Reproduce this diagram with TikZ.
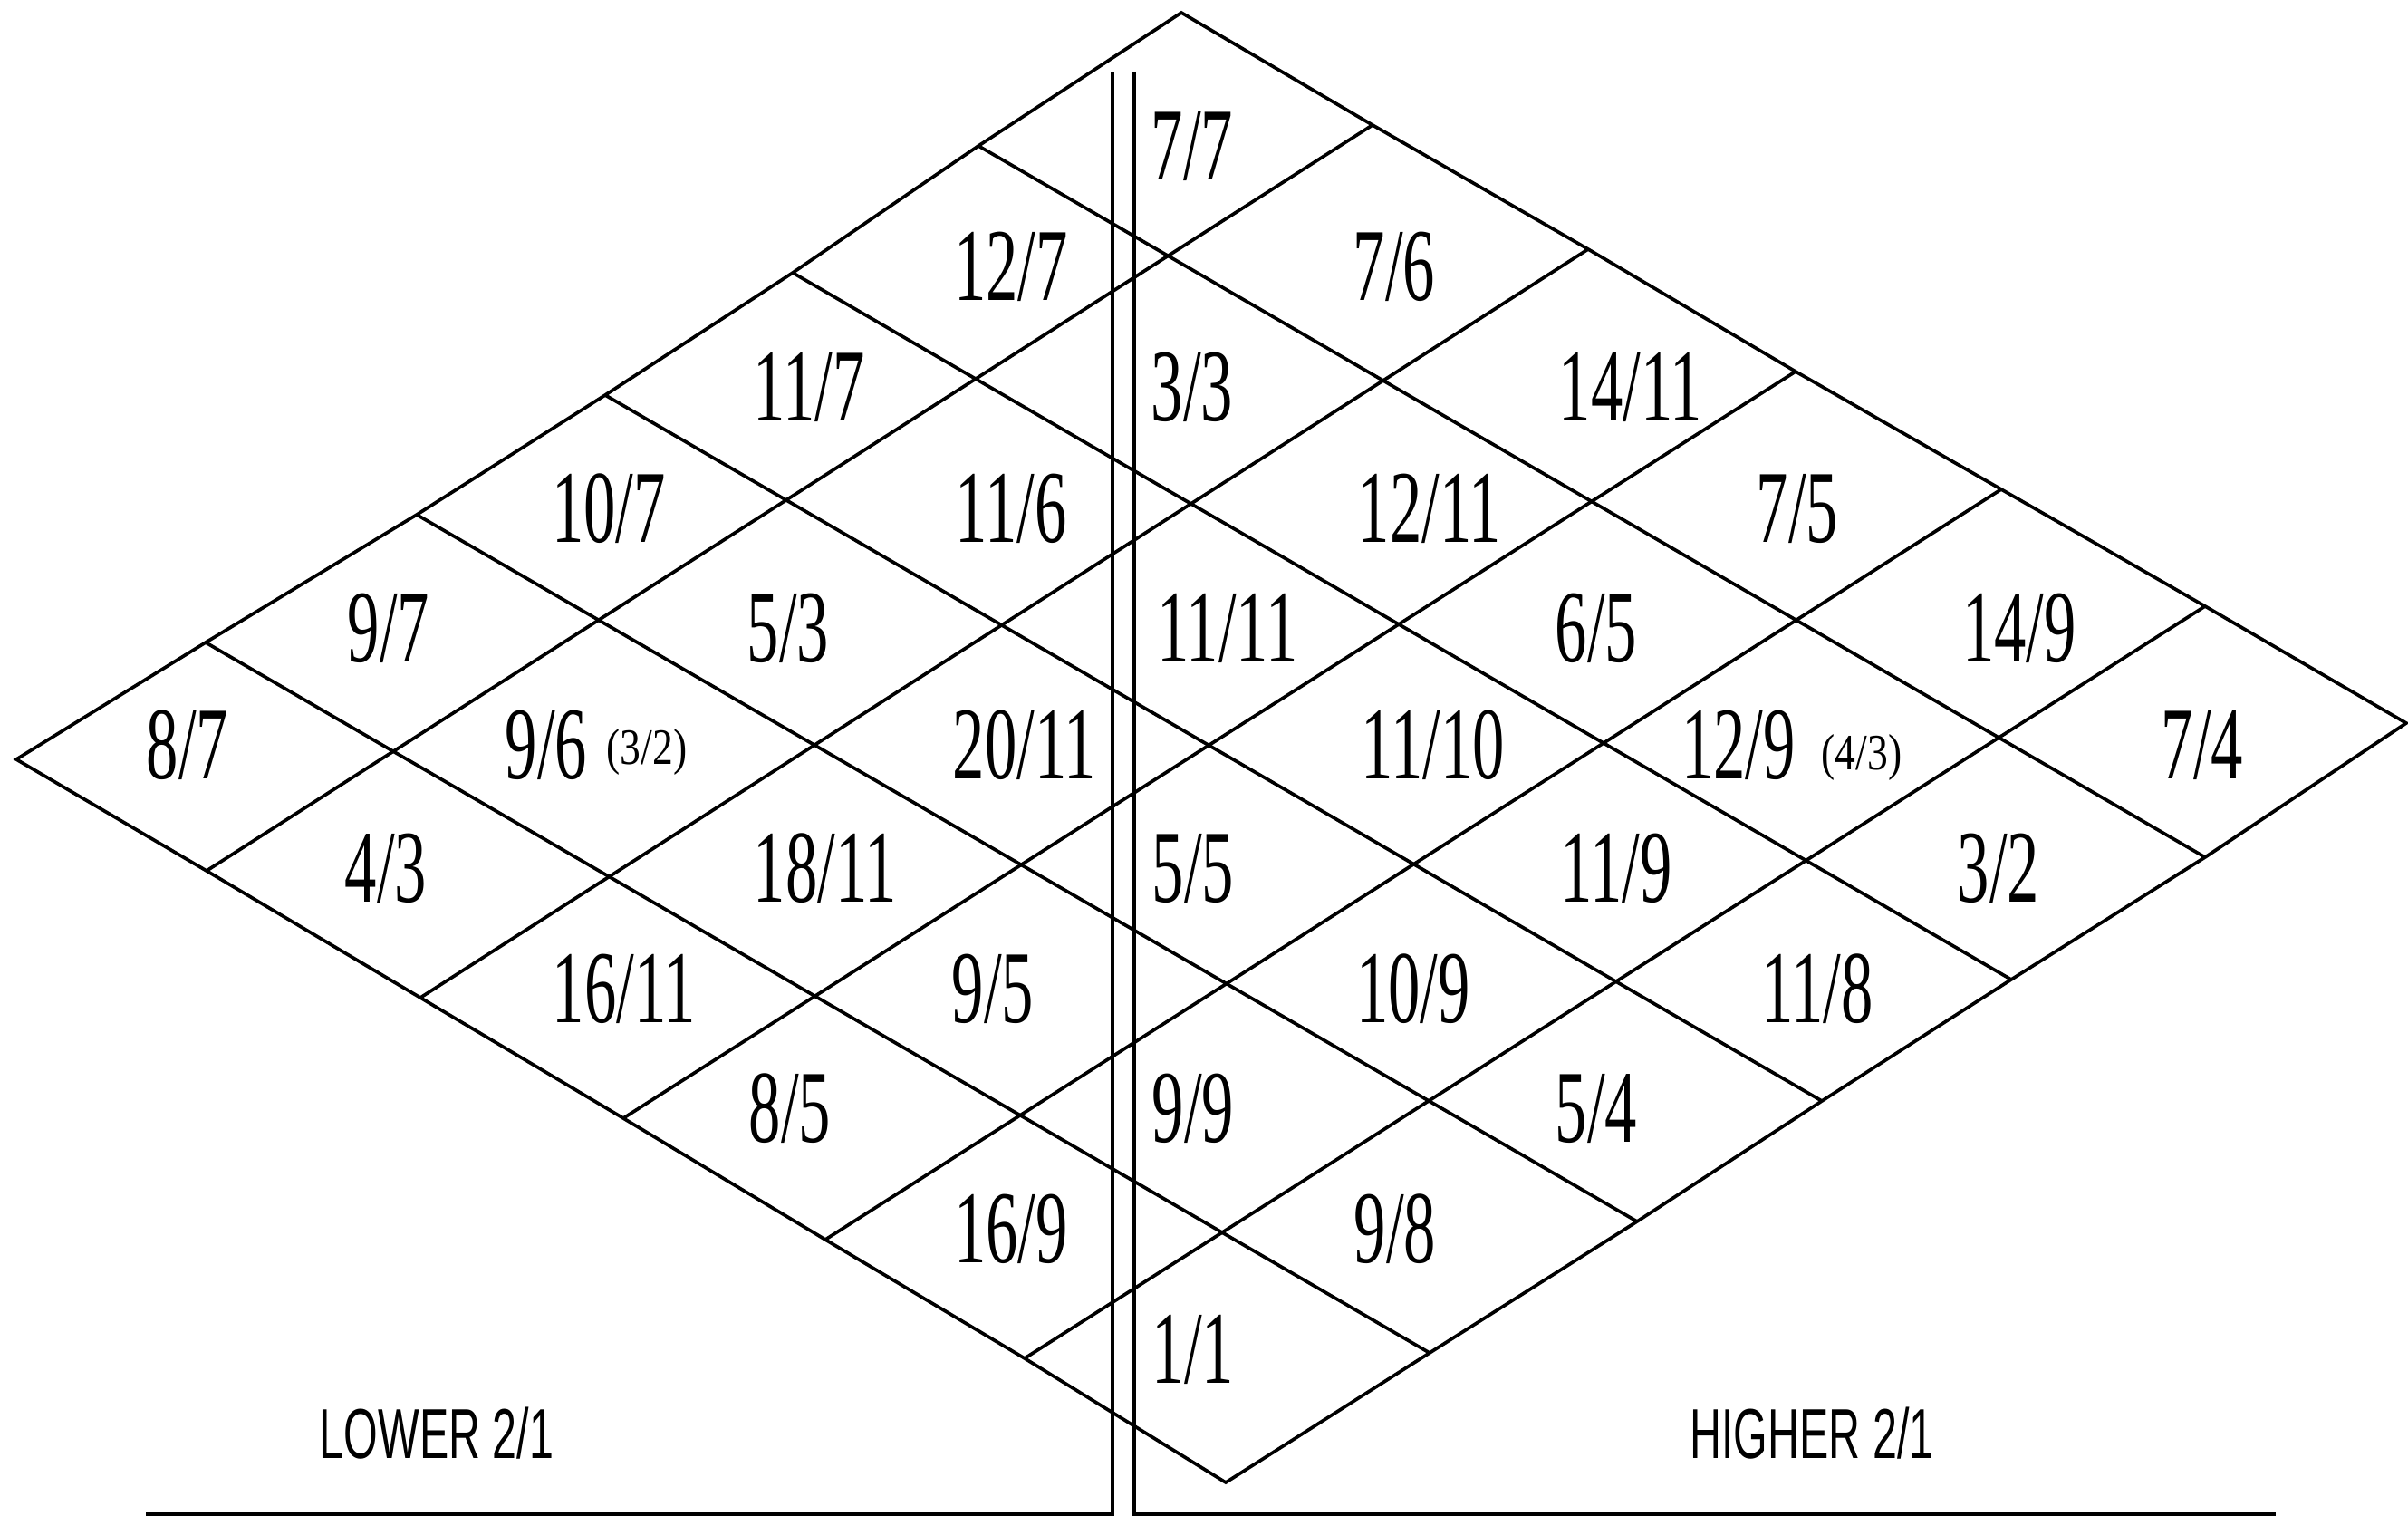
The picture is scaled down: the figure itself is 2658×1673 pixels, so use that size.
\documentclass[tikz,border=0pt]{standalone}
\usepackage{fontspec}
\setmainfont{Liberation Serif}[FakeStretch=0.62]
\newfontfamily\asideserif{Liberation Serif}[FakeStretch=0.81]
\newfontfamily\octavesans{Liberation Sans}[FakeStretch=0.62]
\begin{document}
\begin{tikzpicture}[x=0.01cm,y=-0.01cm,line width=1pt,line join=miter]
\tikzset{
  ratio/.style={anchor=base,inner sep=0pt,font=\fontsize{32.4}{34}\selectfont},
  aside/.style={anchor=base,inner sep=0pt,font=\asideserif\fontsize{16}{18}\selectfont},
  octave/.style={anchor=base,inner sep=0pt,font=\octavesans\fontsize{22.2}{24}\selectfont},
  gridline/.style={line width=1.05pt},
  divider/.style={line width=0.9pt},
}
\useasboundingbox (0,0) rectangle (2658,1673);
% corners
\coordinate (L) at (18,838);
\coordinate (T) at (1304,14);
\coordinate (R) at (2656,798);
\coordinate (B) at (1353,1636);
% points on the edges
\coordinate (lt1) at (227,709);
\coordinate (lt2) at (460,568);
\coordinate (lt3) at (668,436);
\coordinate (lt4) at (875,301);
\coordinate (lt5) at (1080,161);
\coordinate (tr1) at (1515,138);
\coordinate (tr2) at (1753,275);
\coordinate (tr3) at (1982,410);
\coordinate (tr4) at (2209,540);
\coordinate (tr5) at (2434,669);
\coordinate (lb1) at (228,961);
\coordinate (lb2) at (464,1101);
\coordinate (lb3) at (688,1234);
\coordinate (lb4) at (911,1368);
\coordinate (lb5) at (1131,1499);
\coordinate (br1) at (1578,1493);
\coordinate (br2) at (1807,1348);
\coordinate (br3) at (2011,1215);
\coordinate (br4) at (2220,1081);
\coordinate (br5) at (2434,946);
% outline
\draw[gridline] (L) -- (lt1) -- (lt2) -- (lt3) -- (lt4) -- (lt5) -- (T)
  -- (tr1) -- (tr2) -- (tr3) -- (tr4) -- (tr5) -- (R)
  -- (br5) -- (br4) -- (br3) -- (br2) -- (br1) -- (B)
  -- (lb5) -- (lb4) -- (lb3) -- (lb2) -- (lb1) -- cycle;
% inner lines
\foreach \i in {1,...,5} {
  \draw[gridline] (lb\i) -- (tr\i);
  \draw[gridline] (lt\i) -- (br\i);
}
% double divider and base lines
\coordinate (dltop) at (1228,79);
\coordinate (dlfoot) at (1228,1671);
\coordinate (baseleft) at (161,1671);
\coordinate (drtop) at (1252,79);
\coordinate (drfoot) at (1252,1671);
\coordinate (baseright) at (2512,1671);
\draw[divider] (baseleft) -- (dlfoot) -- (dltop);
\draw[divider] (drtop) -- (drfoot) -- (baseright);
% labels
\node[ratio] (r7x7) at (1316,199) {7/7};
\node[ratio] (r12x7) at (1116,332) {12/7};
\node[ratio] (r7x6) at (1539,332) {7/6};
\node[ratio] (r11x7) at (893,464) {11/7};
\node[ratio] (r3x3) at (1316,464) {3/3};
\node[ratio] (r14x11) at (1800,464) {14/11};
\node[ratio] (r10x7) at (672,598) {10/7};
\node[ratio] (r11x6) at (1116,598) {11/6};
\node[ratio] (r12x11) at (1578,598) {12/11};
\node[ratio] (r7x5) at (1984,598) {7/5};
\node[ratio] (r9x7) at (429,730) {9/7};
\node[ratio] (r5x3) at (870,730) {5/3};
\node[ratio] (r11x11) at (1355,730) {11/11};
\node[ratio] (r6x5) at (1762,730) {6/5};
\node[ratio] (r14x9) at (2229,730) {14/9};
\node[ratio] (r8x7) at (207,859) {8/7};
\node[ratio] (r9x6) at (603,859) {9/6};
\node[aside] (a3x2) at (714,843) {(3/2)};
\node[ratio] (r20x11) at (1131,859) {20/11};
\node[ratio] (r11x10) at (1582,859) {11/10};
\node[ratio] (r12x9) at (1919,859) {12/9};
\node[aside] (a4x3) at (2055,849) {(4/3)};
\node[ratio] (r7x4) at (2431,859) {7/4};
\node[ratio] (r4x3) at (426,995) {4/3};
\node[ratio] (r18x11) at (911,995) {18/11};
\node[ratio] (r5x5) at (1317,995) {5/5};
\node[ratio] (r11x9) at (1784,995) {11/9};
\node[ratio] (r3x2) at (2206,995) {3/2};
\node[ratio] (r16x11) at (689,1128) {16/11};
\node[ratio] (r9x5) at (1096,1128) {9/5};
\node[ratio] (r10x9) at (1560,1128) {10/9};
\node[ratio] (r11x8) at (2006,1128) {11/8};
\node[ratio] (r8x5) at (872,1260) {8/5};
\node[ratio] (r9x9) at (1317,1260) {9/9};
\node[ratio] (r5x4) at (1762,1260) {5/4};
\node[ratio] (r16x9) at (1116,1393) {16/9};
\node[ratio] (r9x8) at (1540,1393) {9/8};
\node[ratio] (r1x1) at (1317,1526) {1/1};
\node[octave] (lower) at (482,1609) {LOWER 2/1};
\node[octave] (higher) at (2000,1609) {HIGHER 2/1};
\end{tikzpicture}
\end{document}
